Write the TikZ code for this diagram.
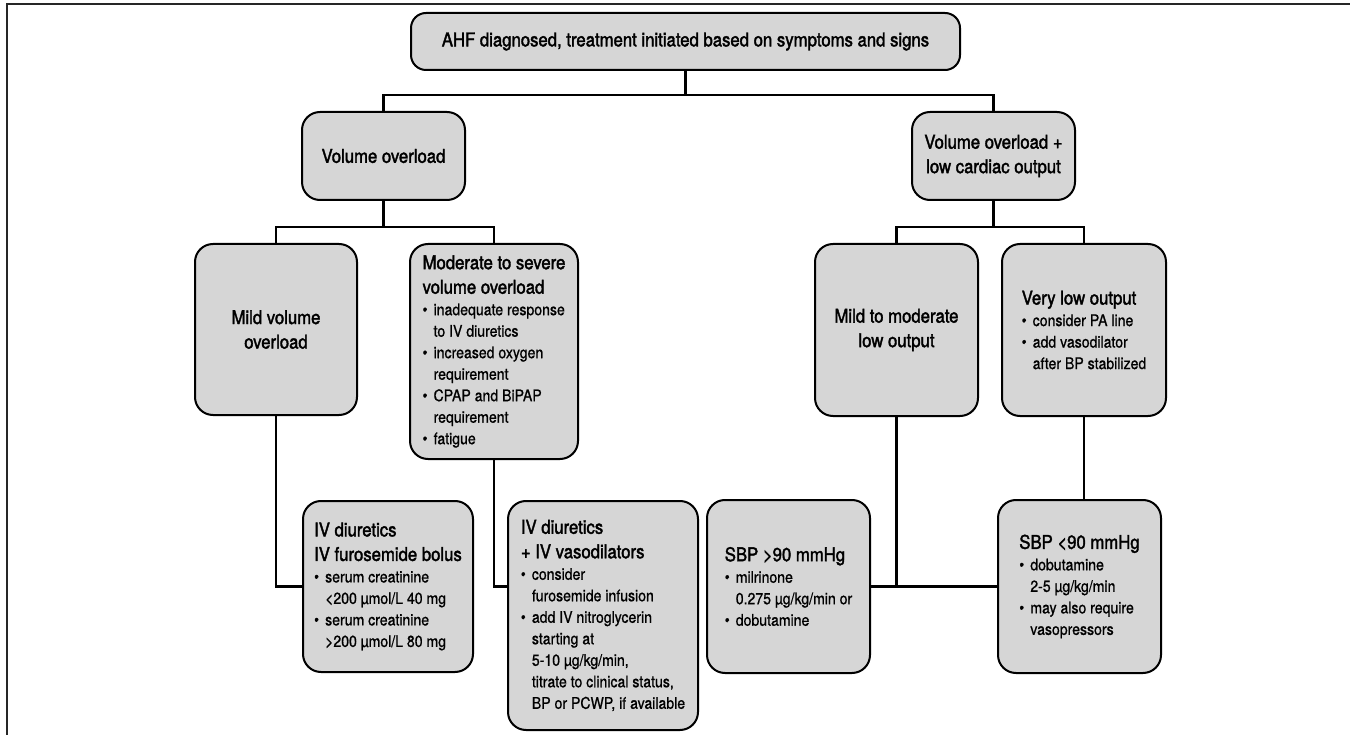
\documentclass[tikz,border=0pt]{standalone}
\usepackage{fontspec}
\setmainfont{TeX Gyre Heros}[FakeStretch=0.88, FakeBold=0.9]
\newfontfamily\hdfamily{TeX Gyre Heros}[FakeStretch=0.88, FakeBold=1.9]
\usepackage{varwidth}
\definecolor{boxgray}{HTML}{D6D6D6}
\newcommand{\hd}{\hdfamily\fontsize{19}{24.5}\selectfont}
\newcommand{\bt}{\normalfont\fontsize{16}{21.5}\selectfont}
\newcommand{\itm}{\par\noindent\makebox[11pt][l]{\textbullet}}
\newcommand{\nl}{\newline\hspace*{11pt}}
\newenvironment{blk}{\begin{varwidth}{400pt}\parindent=0pt}{\par\end{varwidth}}
\begin{document}
\begin{tikzpicture}[x=1pt,y=-1pt,
  box/.style={draw, line width=2pt, fill=boxgray, rounded corners=18pt, inner sep=0pt},
  conn/.style={line width=2.5pt, line cap=rect},
  frame/.style={line width=2pt, draw=black!85}]
\useasboundingbox (0,0) rectangle (1350,735);
% frame (cropped)
\draw[frame] (7,735) -- (7,4.5) -- (1350,4.5);
% nodes
\node[box, rounded corners=15pt, minimum width=549pt, minimum height=57pt, font=\hd] (top) at (685.5,41.5)
  {AHF diagnosed, treatment initiated based on symptoms and signs};
\node[box, minimum width=163pt, minimum height=88pt, font=\hd] (vo) at (383.5,156) {Volume overload};
\node[box, minimum width=163pt, minimum height=88pt, font=\hd, align=center] (vlco) at (993.5,156)
  {Volume overload +\\low cardiac output};
\node[box, minimum width=162pt, minimum height=171pt, font=\hd, align=center] (mild) at (276,329.5)
  {Mild volume\\overload};
\node[box, minimum width=168pt, minimum height=215pt] (mod) at (494,351.5)
  {\begin{blk}\hd Moderate to severe\newline volume overload\par\bt
   \itm inadequate response\nl to IV diuretics
   \itm increased oxygen\nl requirement
   \itm CPAP and BiPAP\nl requirement
   \itm fatigue\end{blk}};
\node[box, minimum width=163pt, minimum height=172pt, font=\hd, align=center] (mm) at (896.5,330)
  {Mild to moderate\\low output};
\node[box, minimum width=164pt, minimum height=172pt] (vlo) at (1084,330)
  {\begin{blk}\hd Very low output\par\bt
   \itm consider PA line
   \itm add vasodilator\nl after BP stabilized\end{blk}};
\node[box, minimum width=170pt, minimum height=171pt] (d1) at (388,586.5)
  {\begin{blk}\hd IV diuretics\newline IV furosemide bolus\par\bt
   \itm serum creatinine\nl <200 µmol/L 40 mg
   \itm serum creatinine\nl >200 µmol/L 80 mg\end{blk}};
\node[box, minimum width=190pt, minimum height=229pt] (d2) at (603,615.5)
  {\begin{blk}\hd IV diuretics\newline + IV vasodilators\par\bt
   \itm consider\nl furosemide infusion
   \itm add IV nitroglycerin\nl starting at\nl 5-10 µg/kg/min,\nl titrate to clinical status,\nl BP or PCWP, if available\end{blk}};
\node[box, minimum width=163pt, minimum height=173pt] (s1) at (788.5,586.5)
  {\begin{blk}\hd SBP >90 mmHg\par\bt
   \itm milrinone\nl 0.275 µg/kg/min or
   \itm dobutamine\end{blk}};
\node[box, minimum width=163pt, minimum height=173pt] (s2) at (1079.5,586.5)
  {\begin{blk}\hd SBP <90 mmHg\par\bt
   \itm dobutamine\nl 2-5 µg/kg/min
   \itm may also require\nl vasopressors\end{blk}};
% connector levels
\coordinate (h0) at (0,95);
\coordinate (h1) at (0,227);
% connectors
\draw[conn] (top.south) -- (top.south |- h0);
\draw[conn] (vo.north) -- (vo.north |- h0) -- (vlco.north |- h0) -- (vlco.north);
\draw[conn] (vo.south) -- (vo.south |- h1);
\draw[conn] (mild.north) -- (mild.north |- h1) -- (mod.north |- h1) -- (mod.north);
\draw[conn] (vlco.south) -- (vlco.south |- h1);
\draw[conn] (mm.north) -- (mm.north |- h1) -- (vlo.north |- h1) -- (vlo.north);
\draw[conn] (mild.south) |- (d1.west);
\draw[conn] (mod.south) |- (d2.west |- d1.west);
\draw[conn] (s1.east) -- (s2.west);
\draw[conn] (mm.south) -- (mm.south |- s1.east);
\draw[conn] (vlo.south) -- (vlo.south |- s2.north);
\end{tikzpicture}
\end{document}
